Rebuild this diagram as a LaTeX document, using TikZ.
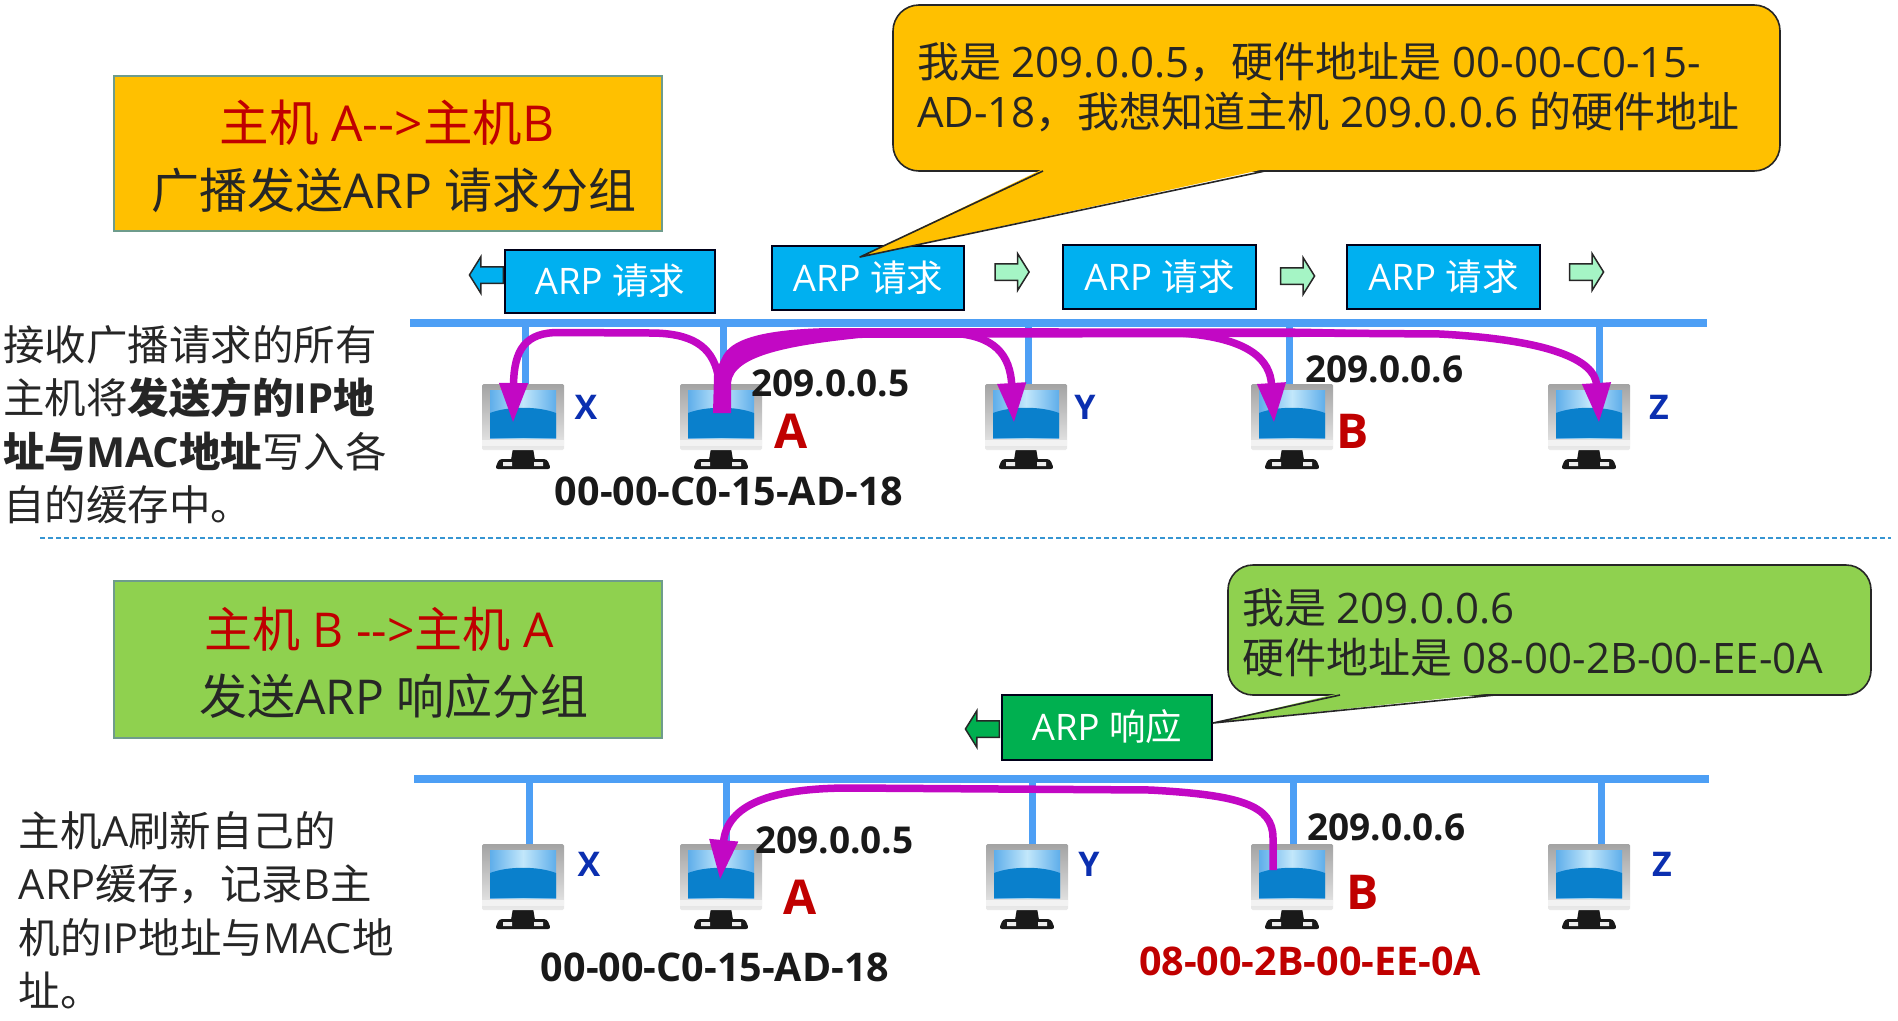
\documentclass[tikz,border=0pt]{standalone}
\usepackage{fontspec}
\setmainfont{Open Sans}
\newfontfamily\cjk{Noto Sans CJK SC}
\newcommand{\zh}[1]{{\cjk #1}}
\newcommand{\shaftgauge}{\rule{0pt}{15pt}}
\usetikzlibrary{arrows.meta,shapes.arrows,calc}
\definecolor{titlered}{HTML}{C00000}
\definecolor{buscol}{HTML}{4D9FF5}
\definecolor{pinkarc}{HTML}{C208C4}
\definecolor{cyanbox}{HTML}{00B0F0}
\definecolor{greenbox}{HTML}{00B050}
\definecolor{amber}{HTML}{FFC000}
\definecolor{leaf}{HTML}{8FD14F}
\definecolor{navy}{HTML}{0B2FB0}
\definecolor{mint}{HTML}{A5F5C5}
\definecolor{edgegrey}{HTML}{6E9C8C}
\definecolor{screenlow}{HTML}{0A80CC}
\definecolor{screenedge}{HTML}{5FAEEA}
\definecolor{screenglow}{HTML}{C2E7FB}
\tikzset{
  x=1pt,y=-1pt,
  txt/.style={inner sep=0pt,outer sep=0pt,align=left,text=black!85},
  banner/.style={draw=edgegrey,line width=1.5pt,inner sep=0pt},
  packet/.style={draw=black!90!blue,line width=2pt,inner sep=0pt,text=white,font=\fontsize{36.5}{40}\selectfont},
  busline/.style={buscol,line width=8pt},
  tap/.style={buscol,line width=7pt},
  arc/.style={pinkarc,line width=7.5pt,-{Triangle[width=27pt,length=40pt]}},
  addr/.style={inner sep=0pt,font=\bfseries\fontsize{37}{40}\selectfont,text=black!90},
  macaddr/.style={inner sep=0pt,font=\bfseries\fontsize{39.5}{42}\selectfont,text=black!90},
  hostname/.style={inner sep=0pt,font=\bfseries\fontsize{48}{50}\selectfont,text=titlered},
  sidename/.style={inner sep=0pt,font=\bfseries\fontsize{34}{40}\selectfont,text=navy},
  flag/.style={draw=black!85,line width=1.6pt},
  dir/.style={single arrow,draw=black!85,line width=1.5pt,minimum height=34pt,
    single arrow head extend=10pt,single arrow tip angle=116,inner sep=0pt},
  computer/.pic={
    % stand
    \fill[black!90] (-10,64) -- (10,64) -- (12,76) -- (-12,76) -- cycle;
    \fill[black!90,rounded corners=3pt] (-28,85) -- (-24,75) -- (24,75) -- (28,85) -- cycle;
    \fill[white!85!gray] (-20,78) rectangle (-11,82) (11,78) rectangle (20,82);
    % housing and screen
    \shade[top color=black!36,bottom color=black!8,rounded corners=1.5pt] (-41,0) rectangle (41,66);
    \fill[white!90!gray] (-41,56) rectangle (41,62);
    \shade[left color=screenedge,right color=screenedge,middle color=screenglow] (-33,6) rectangle (33,54);
    \fill[screenlow] (-33,54) -- (-33,29) .. controls (-15,22) and (15,22) .. (33,29) -- (33,54) -- cycle;
  }
}
\begin{document}
\begin{tikzpicture}
\useasboundingbox (0,0) rectangle (1898,1020);

% ---- upper half: broadcast of the request ----
\node[banner,fill=amber,minimum width=548pt,minimum height=155pt] (req) at (388,153.5) {};
\node[inner sep=0pt,text=titlered,font=\fontsize{49.5}{50}\selectfont] (reqa) at (387,123) {\zh{主机} A-{}->\zh{主机}B};
\node[inner sep=0pt,text=black!85,font=\fontsize{48}{50}\selectfont] (reqb) at (394,190) {\zh{广播发送}ARP \zh{请求分组}};

\node[txt,anchor=north west,font=\fontsize{41.5}{53.5}\selectfont] (leftup) at (3,325)
  {\zh{接收广播请求的所有}\\\zh{主机将}\textbf{{\cjk\bfseries 发送方的}IP{\cjk\bfseries 地}}\\\textbf{{\cjk\bfseries 址与}MAC{\cjk\bfseries 地址}}\zh{写入各}\\\zh{自的缓存中。}};

\draw[busline] (410,322.5) coordinate (busLa) -- (1707,322.5) coordinate (busRa);

\foreach \nm/\tx/\mx in {x/525/523,a/723/721,y/1028/1026,b/1289/1292,z/1599/1589}{
  \coordinate (top\nm) at (\tx,323);
  \coordinate (up\nm) at (\mx,384);
  \draw[tap] (top\nm) -- (\tx,386);
  \pic at (up\nm) {computer};
}

% packets travelling along the bus
\node[dir,fill=cyanbox,shape border rotate=180] (pl) at (489,275) {\shaftgauge};
\node[packet,fill=cyanbox,minimum width=210pt,minimum height=63pt] (p1) at (610,281) {ARP \zh{请求}};
\node[packet,fill=cyanbox,minimum width=192pt,minimum height=64pt] (p2) at (868,278) {ARP \zh{请求}};
\node[packet,fill=cyanbox,minimum width=193pt,minimum height=64pt] (p3) at (1159.5,277) {ARP \zh{请求}};
\node[packet,fill=cyanbox,minimum width=193pt,minimum height=64pt] (p4) at (1443.5,277) {ARP \zh{请求}};
\node[dir,fill=mint] (r1) at (1009.5,272) {\shaftgauge};
\node[dir,fill=mint] (r2) at (1295,276) {\shaftgauge};
\node[dir,fill=mint] (r3) at (1584,272) {\shaftgauge};

% speech bubble for the sender, its tail reaching onto the second packet
\coordinate (tipA) at (860,257);
\draw[flag,fill=amber,rounded corners=26pt]
  (893,5) rectangle (1780,171);
\fill[amber] (1043,169) -- (1265,169) -- (tipA) -- cycle;
\draw[flag,line join=round] (1043,171) -- (tipA) -- (1265,171);
\node[txt,anchor=north west,font=\fontsize{42}{50}\selectfont] (sayA) at (917,42)
  {\zh{我是} 209.0.0.5\zh{，硬件地址是} 00-00-C0-15-\\AD-18\zh{，我想知道主机} 209.0.0.6 \zh{的硬件地址}};

% broadcast arcs from host A: a flared stem feeding one band, branching to each host
\coordinate (srcA) at (718,375);
\coordinate (endX) at (513,423);
\coordinate (endY) at (1014,423);
\coordinate (endB) at (1274,423);
\coordinate (endZ) at (1599,423);
\fill[pinkarc] (713,413) -- (714,375) -- (722,358) .. controls (728,345) and (745,330) .. (827,328)
  -- (1300,328.5) -- (1460,332) -- (1300,337) -- (860,338)
  .. controls (793,345) and (733,355) .. (731,383) -- (731,413) -- cycle;
\draw[arc] (srcA) .. controls (712,345) and (690,333) .. (650,333) -- (560,332.5)
  .. controls (525,332) and (514,350) .. (endX);
\draw[arc] (950,333) .. controls (995,335) and (1010,355) .. (endY);
\draw[arc] (1180,333) .. controls (1250,338) and (1270,360) .. (endB);
\draw[arc] (1300,333) -- (1440,334) .. controls (1550,340) and (1595,360) .. (endZ);

\node[addr,anchor=west] (ipA) at (751,383) {209.0.0.5};
\node[addr,anchor=west] (ipB) at (1305,369) {209.0.0.6};
\node[macaddr] (macA) at (729,491) {00-00-C0-15-AD-18};
\node[hostname] (nmA) at (791,431) {A};
\node[hostname] (nmB) at (1353,431) {B};
\node[sidename] (nX) at (586,407) {X};
\node[sidename] (nY) at (1085,407) {Y};
\node[sidename] (nZ) at (1659,407) {Z};

\draw[buscol!70!teal,line width=1.6pt,dash pattern=on 5pt off 3pt] (40,538) coordinate (dl) -- (1891,538) coordinate (dr);

% ---- lower half: unicast reply ----
\node[banner,fill=leaf,minimum width=548pt,minimum height=157pt] (rsp) at (388,659.5) {};
\node[inner sep=0pt,text=titlered,font=\fontsize{48}{50}\selectfont] (rspa) at (379,629) {\zh{主机} B -{}->\zh{主机} A};
\node[inner sep=0pt,text=black!85,font=\fontsize{48}{50}\selectfont] (rspb) at (394,696) {\zh{发送}ARP \zh{响应分组}};

\node[txt,anchor=north west,font=\fontsize{41.5}{53.5}\selectfont] (leftdn) at (19,811)
  {\zh{主机}A\zh{刷新自己的}\\ARP\zh{缓存，记录}B\zh{主}\\\zh{机的}IP\zh{地址与}MAC\zh{地}\\\zh{址。}};

\draw[busline] (414,779) coordinate (busLb) -- (1709,779) coordinate (busRb);
\foreach \nm/\tx/\mx in {p/529/523,q/726/721,r/1032/1027,s/1293/1292,t/1601/1589}{
  \coordinate (top\nm) at (\tx,779);
  \coordinate (up\nm) at (\mx,844);
  \draw[tap] (top\nm) -- (\tx,846);
  \pic at (up\nm) {computer};
}
\node[dir,fill=greenbox,shape border rotate=180] (gl) at (985,729) {\shaftgauge};
\node[packet,fill=greenbox,minimum width=210pt,minimum height=65pt] (resp) at (1107,727) {ARP \zh{响应}};

\coordinate (tipB) at (1213,723);
\draw[flag,fill=leaf,rounded corners=25pt] (1228,565) rectangle (1871,695);
\fill[leaf] (1340,693) -- (1495,693) -- (tipB) -- cycle;
\draw[flag,line join=round] (1340,695) -- (tipB) -- (1495,695);
\node[txt,anchor=north west,font=\fontsize{42}{50}\selectfont] (sayB) at (1242,589)
  {\zh{我是} 209.0.0.6\\\zh{硬件地址是} 08-00-2B-00-EE-0A};

% reply arc from B back to A
\coordinate (srcB) at (1273,870);
\coordinate (endQ) at (720,880);
\draw[arc] (srcB) -- (1273,838) .. controls (1273,805) and (1240,795) .. (1150,790) -- (850,788)
  .. controls (770,788) and (727,805) .. (endQ);

\node[addr,anchor=west] (ipA2) at (755,840) {209.0.0.5};
\node[addr,anchor=west] (ipB2) at (1307,827) {209.0.0.6};
\node[macaddr] (macA2) at (715,967) {00-00-C0-15-AD-18};
\node[macaddr,text=titlered] (macB2) at (1310,961) {08-00-2B-00-EE-0A};
\node[hostname] (nmA2) at (800,897) {A};
\node[hostname] (nmB2) at (1363,892) {B};
\node[sidename] (nX2) at (589,864) {X};
\node[sidename] (nY2) at (1089,864) {Y};
\node[sidename] (nZ2) at (1662,864) {Z};
\end{tikzpicture}
\end{document}
